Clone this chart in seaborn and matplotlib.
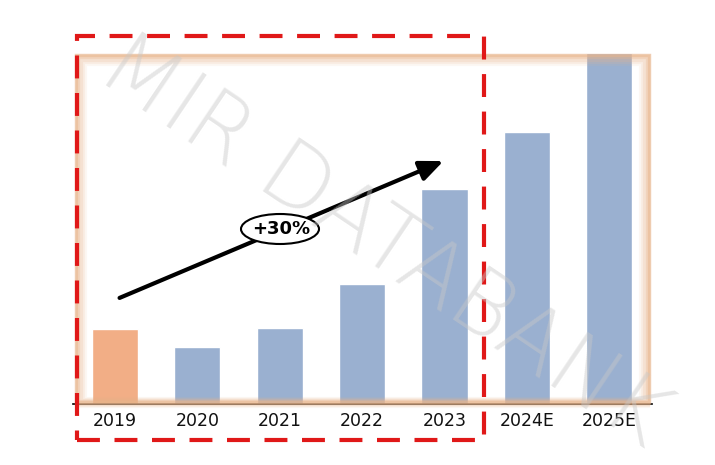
import matplotlib
matplotlib.use("Agg")
import matplotlib.pyplot as plt
import seaborn as sns
import pandas as pd
from matplotlib.patches import Rectangle, Ellipse, FancyArrowPatch

categories = ["2019", "2020", "2021", "2022", "2023", "2024E", "2025E"]
values = [75, 57, 76, 120, 215, 272, 351]
bar_colors = ["#F2AE86", "#9AB0D0", "#9AB0D0", "#9AB0D0", "#9AB0D0", "#9AB0D0", "#9AB0D0"]
growth_label = "+30%"
watermark = "MIR DATABANK"

sns.set_theme(style="white")
plt.rcParams['font.family'] = ['DejaVu Sans']

fig = plt.figure(figsize=(7.15, 4.65), dpi=100)
W, H = 715, 465
ax = fig.add_axes([73 / W, (H - 404) / H, (652 - 73) / W, (404 - 53) / H])

df = pd.DataFrame({"year": categories, "value": values})
sns.barplot(data=df, x="year", y="value", hue="year", palette=bar_colors,
            width=0.56, ax=ax, legend=False, saturation=1)

ax.set_xlim(-0.51, 6.52)
ax.set_ylim(0, 351)
ax.set_xlabel("")
ax.set_ylabel("")
ax.set_yticks([])
for s in ["left", "right", "top"]:
    ax.spines[s].set_visible(False)
ax.spines["bottom"].set_color("black")
ax.spines["bottom"].set_linewidth(1.2)
ax.tick_params(axis="x", length=0, labelsize=12.5, pad=6, colors="#111111")

def fx(px):
    return px / W
def fy(py):
    return (H - py) / H

# soft orange frame (glow)
for i, a in enumerate([0.10, 0.14, 0.20, 0.30, 0.50]):
    inset = 6 - i * 1.2
    lw = 8 - i * 1.4
    r = Rectangle((fx(75 + inset), fy(402)), fx(650 - inset) - fx(75 + inset),
                  fy(54 + inset) - fy(402), transform=fig.transFigure,
                  fill=False, edgecolor="#E8B48A", linewidth=lw, alpha=a, zorder=5)
    fig.patches.append(r)

# red dashed rectangle
red = Rectangle((fx(77), fy(440)), fx(484) - fx(77), fy(36) - fy(440),
                transform=fig.transFigure, fill=False, edgecolor="#E01818",
                linewidth=3.0, linestyle=(0, (5.5, 3.5)), zorder=6)
fig.patches.append(red)

# arrow
arr = FancyArrowPatch((fx(117), fy(299)), (fx(446), fy(160)), transform=fig.transFigure,
                      arrowstyle="-|>,head_length=6.5,head_width=2.8", mutation_scale=2.2,
                      color="black", linewidth=3.0, zorder=7)
fig.patches.append(arr)

ell = Ellipse((fx(280), fy(229)), fx(78), 30 / H, transform=fig.transFigure,
              facecolor="white", edgecolor="black", linewidth=1.5, zorder=8)
fig.patches.append(ell)
fig.text(fx(281), fy(229), growth_label, ha="center", va="center", fontsize=13,
         fontweight="bold", color="black", zorder=9)

# watermark
fig.text(fx(383), fy(243), watermark, ha="center", va="center", fontsize=64,
         rotation=-34, color="#C8C8C8", alpha=0.45, fontweight="light", zorder=10)

fig.savefig("out.png", dpi=100)
